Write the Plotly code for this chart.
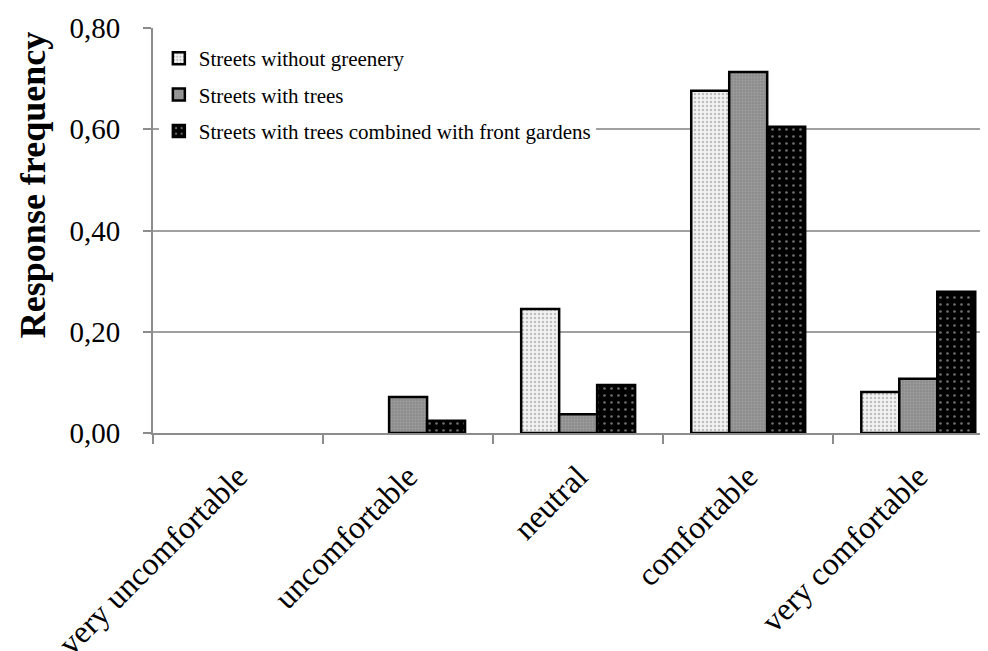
import plotly.graph_objects as go

categories = ["very uncomfortable", "uncomfortable", "neutral", "comfortable", "very comfortable"]
series_names = [
    "Streets without greenery",
    "Streets with trees",
    "Streets with trees combined with front gardens",
]
no_greenery = [0.0, 0.0, 0.245, 0.676, 0.081]
with_trees = [0.0, 0.071, 0.037, 0.713, 0.107]
trees_gardens = [0.0, 0.024, 0.095, 0.605, 0.279]
y_ticks = [0.0, 0.2, 0.4, 0.6, 0.8]

serif = "Liberation Serif"

styles = [
    dict(bgcolor="#f2f2f2", fgcolor="#8a8a8a", size=4, solidity=0.3),
    dict(bgcolor="#8c8c8c", fgcolor="#b5b5b5", size=3, solidity=0.3),
    dict(bgcolor="#000000", fgcolor="#d8d8d8", size=7, solidity=0.12),
]

fig = go.Figure()
for i, (name, vals) in enumerate(zip(series_names, [no_greenery, with_trees, trees_gardens])):
    st = styles[i]
    # zero frequencies are drawn as no bar at all (as in the original)
    shown = [v if v > 0 else None for v in vals]
    fig.add_trace(go.Bar(
        x=categories, y=shown, name=name,
        legendgroup=f"g{i}",
        marker=dict(
            color=st["bgcolor"],
            line=dict(color="black", width=2.5),
            pattern=dict(shape=".", fgcolor=st["fgcolor"], bgcolor=st["bgcolor"],
                         size=st["size"], solidity=st["solidity"], fillmode="overlay"),
        ),
    ))

# page body has an 8px margin, so the figure is 8px smaller than the window
fig.update_layout(
    width=980, height=643,
    paper_bgcolor="white", plot_bgcolor="white",
    margin=dict(l=145, r=0, t=20, b=218, autoexpand=False),
    barmode="group", bargap=0.33, bargroupgap=0,
    separators=",.",
    font=dict(family=serif, color="black"),
    showlegend=True,
    legend=dict(
        x=0.007, y=0.975, xanchor="left", yanchor="top",
        bgcolor="white", borderwidth=0,
        font=dict(family=serif, size=21, color="black"),
        tracegroupgap=6, itemwidth=30,
    ),
    annotations=[dict(
        text="<b>Response frequency</b>", textangle=-90,
        xref="paper", yref="paper", x=-0.1437, y=0.612,
        xanchor="center", yanchor="middle", showarrow=False,
        font=dict(family=serif, size=36, color="black"),
    )],
)
fig.update_xaxes(
    range=[-0.5, 4.41], automargin=False,
    showline=True, linecolor="#8c8c8c", linewidth=2,
    ticks="outside", tickson="boundaries", ticklen=9, tickcolor="#8c8c8c", tickwidth=1.5,
    tickangle=-45, ticklabelstandoff=10,
    tickfont=dict(family=serif, size=32, color="black"),
    showgrid=False, zeroline=False,
)
fig.update_yaxes(
    range=[0, 0.8], tickvals=y_ticks, tickformat=".2f", automargin=False,
    showline=True, linecolor="#8c8c8c", linewidth=2,
    ticks="outside", ticklen=8, tickcolor="#8c8c8c", tickwidth=1.5,
    ticklabelstandoff=17,
    showgrid=True, gridcolor="#a0a0a0", gridwidth=2,
    zeroline=False,
    tickfont=dict(family=serif, size=29, color="black"),
)

fig.write_html("out.html")
